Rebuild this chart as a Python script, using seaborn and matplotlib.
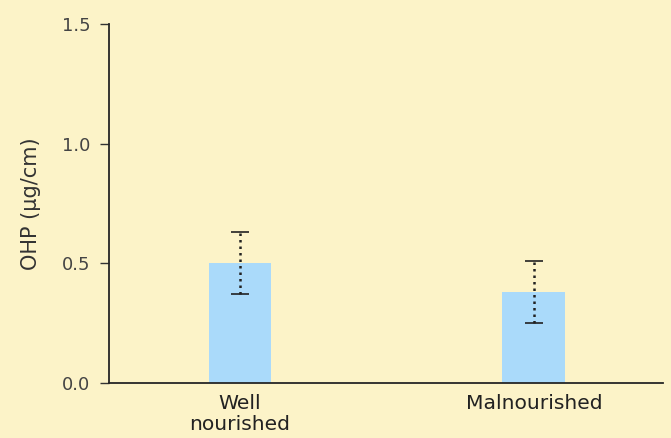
import pandas as pd
import matplotlib.pyplot as plt
import seaborn as sns

# Data
groups = ["Well\nnourished", "Malnourished"]
ohp_mean = [0.50, 0.38]
ohp_err = [0.13, 0.13]

bg = "#FCF3C8"
bar_color = "#AADAFA"

df = pd.DataFrame({"group": groups, "OHP": ohp_mean})

sns.set_style("ticks")
plt.rcParams['font.family'] = ['DejaVu Sans']

fig = plt.figure(figsize=(6.71, 4.38), dpi=100, facecolor=bg)
ax = fig.add_axes([0.1624, 0.1256, 0.8256, 0.8194])
ax.set_facecolor(bg)

sns.barplot(data=df, x="group", y="OHP", color=bar_color, width=0.214,
            errorbar=None, saturation=1, linewidth=0, ax=ax)
ax.errorbar(range(len(groups)), ohp_mean, yerr=ohp_err, fmt="none",
            ecolor="#222222", elinewidth=1.8, capsize=6.5, capthick=1.2)
for line in ax.collections:
    line.set_linestyle((0, (1.0, 1.6)))

ax.set_ylim(0, 1.5)
ax.set_xlim(-0.446, 1.439)
ax.set_yticks([0.0, 0.5, 1.0, 1.5])
ax.set_yticklabels(["0.0", "0.5", "1.0", "1.5"])
ax.set_xlabel("")
ax.set_ylabel("OHP (µg/cm)", fontsize=15, color="#333333", labelpad=15)
ax.tick_params(axis="y", labelsize=13, length=6.5, width=1, pad=7, colors="#333333")
ax.tick_params(axis="x", labelsize=14.6, length=0, pad=8, colors="#222222")
for lbl in ax.get_yticklabels():
    lbl.set_color("#444444")
for lbl in ax.get_xticklabels():
    lbl.set_linespacing(1.15)
sns.despine(ax=ax)
ax.spines["left"].set_linewidth(1.3)
ax.spines["bottom"].set_linewidth(1.3)

fig.savefig("out.png", dpi=100, facecolor=bg)
